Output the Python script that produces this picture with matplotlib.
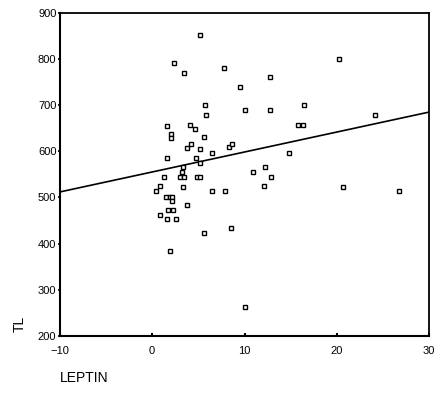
import matplotlib
matplotlib.use("Agg")
from matplotlib import pyplot as plt

# LEPTIN vs TL
leptin = [5.2, 2.4, 3.4, 7.8, 9.5, 5.7, 5.8, 10.0, 1.6, 4.1,
          4.6, 2.0, 2.0, 5.6, 3.8, 4.2, 5.2, 6.5, 8.3, 8.6,
          1.6, 4.8, 5.2, 3.3, 3.2, 1.3, 3.0, 3.4, 4.9, 5.2,
          0.9, 0.4, 3.3, 6.5, 7.9, 1.5, 1.9, 2.1, 2.1, 1.7,
          2.3, 3.8, 0.8, 1.6, 2.6, 5.6, 8.5, 1.9, 10.1, 20.2,
          12.8, 12.8, 16.4, 15.8, 16.3, 24.1, 14.8, 10.9, 12.2, 12.9,
          12.1, 20.7, 26.7]
tl = [852, 792, 770, 780, 739, 700, 678, 689, 655, 657,
      648, 637, 628, 630, 607, 616, 606, 597, 610, 615,
      585, 586, 575, 565, 556, 545, 545, 545, 545, 545,
      524, 514, 522, 513, 513, 502, 502, 502, 493, 473,
      473, 484, 463, 454, 454, 424, 434, 384, 263, 800,
      760, 689, 700, 657, 657, 678, 596, 555, 567, 545,
      524, 522, 514]

# fitted line as printed (end points at the axis limits)
fit_x = [-10, 30]
fit_y = [512, 685]

x_ticks = [-10, 0, 10, 20, 30]
y_ticks = [200, 300, 400, 500, 600, 700, 800, 900]

plt.rcParams['font.family'] = ['Liberation Sans', 'DejaVu Sans']

fig = plt.figure(figsize=(4.37, 4.0), dpi=100)
ax = fig.add_axes([0.137, 0.16, 0.845, 0.808])

ax.plot(fit_x, fit_y, color="black", lw=1.2, zorder=2)
ax.plot(leptin, tl, ls="none", marker="s", ms=3.4, mfc="white", mec="black", mew=1.0, zorder=3)

ax.set_xlim(-10, 30)
ax.set_ylim(200, 900)
ax.set_xticks(x_ticks)
ax.set_yticks(y_ticks)
ax.tick_params(axis="x", direction="in", length=2, width=1.5, pad=7, labelsize=8)
ax.tick_params(axis="y", direction="out", length=1.5, width=1.2, pad=1, labelsize=8)

for side in ["left", "bottom"]:
    ax.spines[side].set_linewidth(1.5)
for side in ["top", "right"]:
    ax.spines[side].set_linewidth(1.3)

fig.text(0.045, 0.19, "TL", rotation=90, fontsize=10, ha="center", va="center")
fig.text(0.137, 0.055, "LEPTIN", fontsize=10, ha="left", va="center")

fig.savefig("out.png", dpi=100)
